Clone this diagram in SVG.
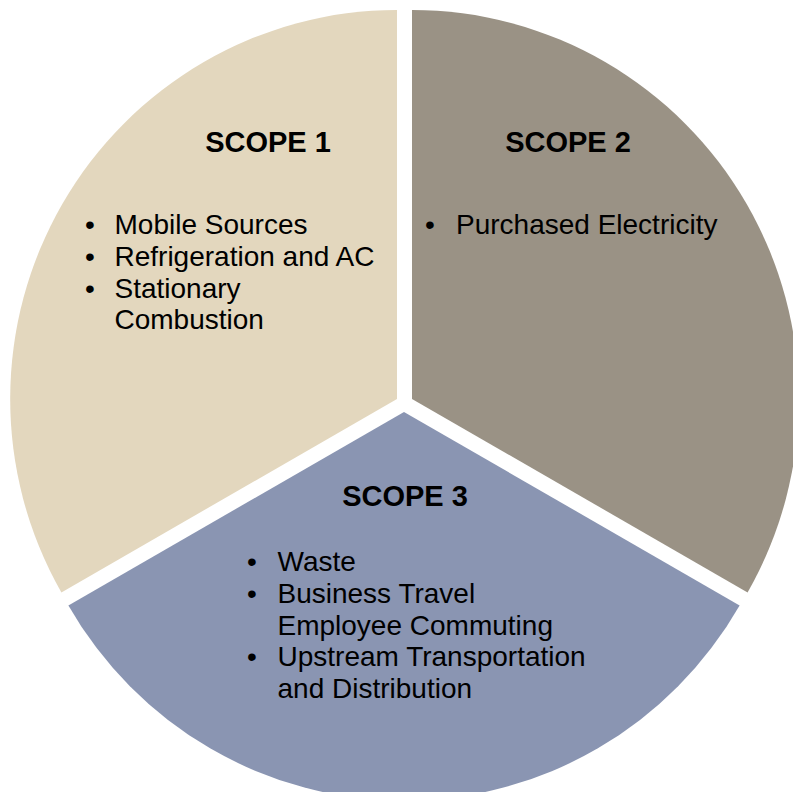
<svg xmlns="http://www.w3.org/2000/svg" width="793" height="792" viewBox="0 0 793 792">
  <style>
    .title { font-family: "Liberation Sans", Arial, sans-serif; font-weight: bold; font-size: 29px; fill: #000; text-anchor: middle; }
    .item { font-family: "Liberation Sans", Arial, sans-serif; font-size: 28px; fill: #000; }
    .bullet { font-family: "Liberation Sans", Arial, sans-serif; font-size: 28px; fill: #000; text-anchor: middle; }
  </style>
  <rect width="793" height="792" fill="#ffffff"/>
  <g id="scope1">
    <path d="M397,399 L397,10 A387,389 0 0 0 61.4,592.4 Z" fill="#E3D7BE"/>
    <text class="title" x="268" y="152">SCOPE 1</text>
    <text class="bullet" x="90" y="234">•</text>
    <text class="item" x="114.5" y="234">Mobile Sources</text>
    <text class="bullet" x="90" y="266">•</text>
    <text class="item" x="114.5" y="266">Refrigeration and AC</text>
    <text class="bullet" x="90" y="297.5">•</text>
    <text class="item" x="114.5" y="297.5">Stationary</text>
    <text class="item" x="114.5" y="329">Combustion</text>
  </g>
  <g id="scope2">
    <path d="M412,399 L412,10 A387,389 0 0 1 747.6,592.4 Z" fill="#9A9285"/>
    <text class="title" x="568" y="152">SCOPE 2</text>
    <text class="bullet" x="430" y="234">•</text>
    <text class="item" x="456" y="234">Purchased Electricity</text>
  </g>
  <g id="scope3">
    <path d="M404,412 L739.6,605.4 A387,389 0 0 1 68.4,605.4 Z" fill="#8A95B2"/>
    <text class="title" x="405" y="506">SCOPE 3</text>
    <text class="bullet" x="252" y="571">•</text>
    <text class="item" x="277.5" y="571">Waste</text>
    <text class="bullet" x="252" y="603">•</text>
    <text class="item" x="277.5" y="603">Business Travel</text>
    <text class="item" x="277.5" y="634.5">Employee Commuting</text>
    <text class="bullet" x="252" y="666">•</text>
    <text class="item" x="277.5" y="666">Upstream Transportation</text>
    <text class="item" x="277.5" y="697.5">and Distribution</text>
  </g>
  <g id="connectors"/>
</svg>
